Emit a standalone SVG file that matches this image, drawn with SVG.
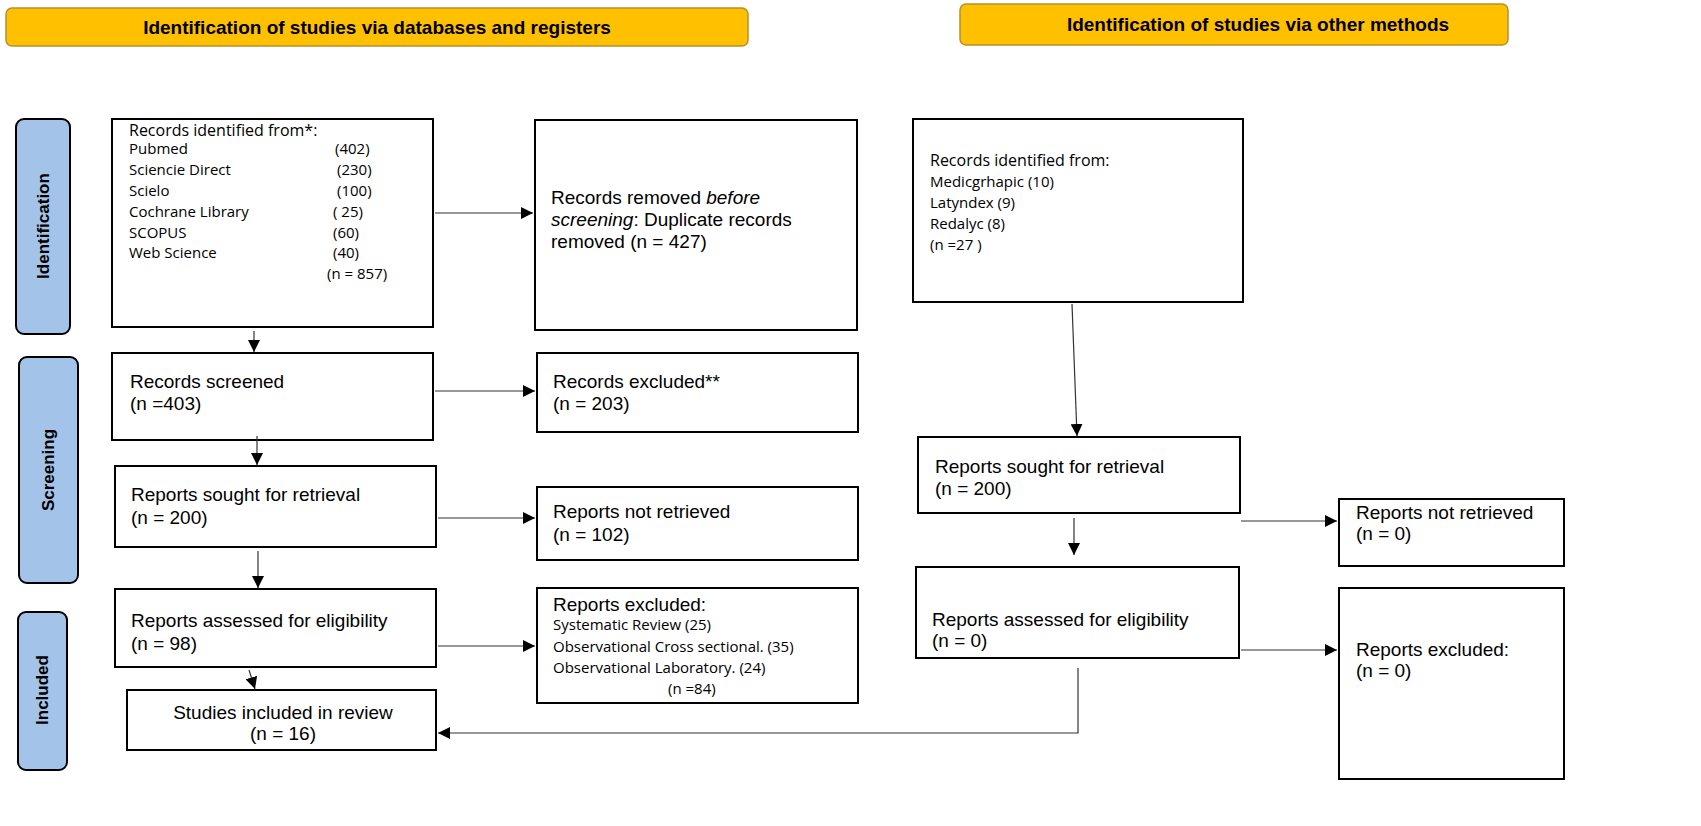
<svg xmlns="http://www.w3.org/2000/svg" width="1701" height="826" viewBox="0 0 1701 826">
<style>
.hdr{fill:#FFC000;stroke:#B8902A;stroke-width:1.5}
.hdrt{font-family:"Liberation Sans",Arial,sans-serif;font-weight:bold;font-size:19px;fill:#000;text-anchor:middle}
.side{fill:#A3C4E8;stroke:#000;stroke-width:2}
.sidet{font-family:"Liberation Sans",Arial,sans-serif;font-weight:bold;font-size:17px;fill:#000;text-anchor:middle}
.box{fill:#fff;stroke:#000;stroke-width:2}
.t{font-family:"Liberation Sans",Arial,sans-serif;font-size:19px;fill:#000}
.s{font-family:"Open Sans","Noto Sans",sans-serif;font-size:15px;fill:#000}
.c{stroke:#333;stroke-width:1.2;fill:none}
</style>
<defs>
<marker id="ah" viewBox="0 0 10 10" refX="10" refY="5" markerWidth="12" markerHeight="12" markerUnits="userSpaceOnUse" orient="auto">
<path d="M0,0 L10,5 L0,10 z" fill="#000"/>
</marker>
</defs>

<g id="header-left">
<rect class="hdr" x="6" y="8" width="742" height="38" rx="6"/>
<text class="hdrt" x="377" y="34">Identification of studies via databases and registers</text>
</g>
<g id="header-right">
<rect class="hdr" x="960" y="4" width="548" height="41" rx="6"/>
<text class="hdrt" x="1258" y="31">Identification of studies via other methods</text>
</g>

<g id="phase-identification">
<rect class="side" x="16" y="119" width="54" height="215" rx="8"/>
<text class="sidet" transform="translate(49 226) rotate(-90)">Identification</text>
</g>
<g id="phase-screening">
<rect class="side" x="19" y="357" width="59" height="226" rx="8"/>
<text class="sidet" transform="translate(54 470) rotate(-90)">Screening</text>
</g>
<g id="phase-included">
<rect class="side" x="18" y="612" width="49" height="158" rx="8"/>
<text class="sidet" transform="translate(48 690) rotate(-90)">Included</text>
</g>

<g id="records-identified">
<rect class="box" x="112" y="119" width="321" height="208"/>
<text class="s" x="129" y="136" style="font-size:16px">Records identified from*:</text>
<text class="s" x="129" y="154">Pubmed</text><text class="s" x="335" y="154">(402)</text>
<text class="s" x="129" y="175">Sciencie Direct</text><text class="s" x="337" y="175">(230)</text>
<text class="s" x="129" y="196">Scielo</text><text class="s" x="337" y="196">(100)</text>
<text class="s" x="129" y="217">Cochrane Library</text><text class="s" x="333" y="217">( 25)</text>
<text class="s" x="129" y="238">SCOPUS</text><text class="s" x="333" y="238">(60)</text>
<text class="s" x="129" y="258">Web Science</text><text class="s" x="333" y="258">(40)</text>
<text class="s" x="327" y="279">(n = 857)</text>
</g>

<g id="records-removed">
<rect class="box" x="535" y="120" width="322" height="210"/>
<text class="t" x="551" y="204">Records removed <tspan font-style="italic">before</tspan></text>
<text class="t" x="551" y="226"><tspan font-style="italic">screening</tspan>: Duplicate records</text>
<text class="t" x="551" y="248">removed (n = 427)</text>
</g>

<g id="records-screened">
<rect class="box" x="112" y="353" width="321" height="87"/>
<text class="t" x="130" y="388">Records screened</text>
<text class="t" x="130" y="410">(n =403)</text>
</g>

<g id="records-excluded">
<rect class="box" x="537" y="353" width="321" height="79"/>
<text class="t" x="553" y="388">Records excluded**</text>
<text class="t" x="553" y="410">(n = 203)</text>
</g>

<g id="reports-sought-left">
<rect class="box" x="115" y="466" width="321" height="81"/>
<text class="t" x="131" y="501">Reports sought for retrieval</text>
<text class="t" x="131" y="524">(n = 200)</text>
</g>

<g id="reports-not-retrieved-left">
<rect class="box" x="537" y="487" width="321" height="73"/>
<text class="t" x="553" y="518">Reports not retrieved</text>
<text class="t" x="553" y="541">(n = 102)</text>
</g>

<g id="reports-assessed-left">
<rect class="box" x="115" y="589" width="321" height="78"/>
<text class="t" x="131" y="627">Reports assessed for eligibility</text>
<text class="t" x="131" y="650">(n = 98)</text>
</g>

<g id="reports-excluded-left">
<rect class="box" x="537" y="588" width="321" height="115"/>
<text class="t" x="553" y="611">Reports excluded:</text>
<text class="s" x="553" y="630">Systematic Review (25)</text>
<text class="s" x="553" y="652">Observational Cross sectional. (35)</text>
<text class="s" x="553" y="673">Observational Laboratory. (24)</text>
<text class="s" x="668" y="694">(n =84)</text>
</g>

<g id="studies-included">
<rect class="box" x="127" y="690" width="309" height="60"/>
<text class="t" x="283" y="719" text-anchor="middle">Studies included in review</text>
<text class="t" x="283" y="740" text-anchor="middle">(n = 16)</text>
</g>

<g id="records-identified-other">
<rect class="box" x="913" y="119" width="330" height="183"/>
<text class="s" x="930" y="166" style="font-size:16px">Records identified from:</text>
<text class="s" x="930" y="187">Medicgrhapic (10)</text>
<text class="s" x="930" y="208">Latyndex  (9)</text>
<text class="s" x="930" y="229">Redalyc (8)</text>
<text class="s" x="930" y="250">(n =27 )</text>
</g>

<g id="reports-sought-right">
<rect class="box" x="918" y="437" width="322" height="76"/>
<text class="t" x="935" y="473">Reports sought for retrieval</text>
<text class="t" x="935" y="495">(n = 200)</text>
</g>

<g id="reports-not-retrieved-right">
<rect class="box" x="1339" y="499" width="225" height="67"/>
<text class="t" x="1356" y="519">Reports not retrieved</text>
<text class="t" x="1356" y="540">(n = 0)</text>
</g>

<g id="reports-assessed-right">
<rect class="box" x="916" y="567" width="323" height="91"/>
<text class="t" x="932" y="626">Reports assessed for eligibility</text>
<text class="t" x="932" y="647">(n = 0)</text>
</g>

<g id="reports-excluded-right">
<rect class="box" x="1339" y="588" width="225" height="191"/>
<text class="t" x="1356" y="656">Reports excluded:</text>
<text class="t" x="1356" y="677">(n = 0)</text>
</g>

<g id="connectors">
<line class="c" x1="435" y1="213" x2="533" y2="213" marker-end="url(#ah)"/>
<line class="c" x1="254" y1="331" x2="254" y2="352" marker-end="url(#ah)"/>
<line class="c" x1="435" y1="391" x2="535" y2="391" marker-end="url(#ah)"/>
<line class="c" x1="257" y1="436" x2="257" y2="465" marker-end="url(#ah)"/>
<line class="c" x1="438" y1="518" x2="535" y2="518" marker-end="url(#ah)"/>
<line class="c" x1="258" y1="551" x2="258" y2="588" marker-end="url(#ah)"/>
<line class="c" x1="438" y1="646" x2="535" y2="646" marker-end="url(#ah)"/>
<line class="c" x1="249" y1="670" x2="255" y2="689" marker-end="url(#ah)"/>
<line class="c" x1="1072" y1="304" x2="1077" y2="436" marker-end="url(#ah)"/>
<line class="c" x1="1074" y1="518" x2="1074" y2="555" marker-end="url(#ah)"/>
<line class="c" x1="1241" y1="521" x2="1337" y2="521" marker-end="url(#ah)"/>
<line class="c" x1="1241" y1="650" x2="1337" y2="650" marker-end="url(#ah)"/>
<polyline class="c" points="1078,668 1078,733 438,733" marker-end="url(#ah)"/>
</g>
</svg>
